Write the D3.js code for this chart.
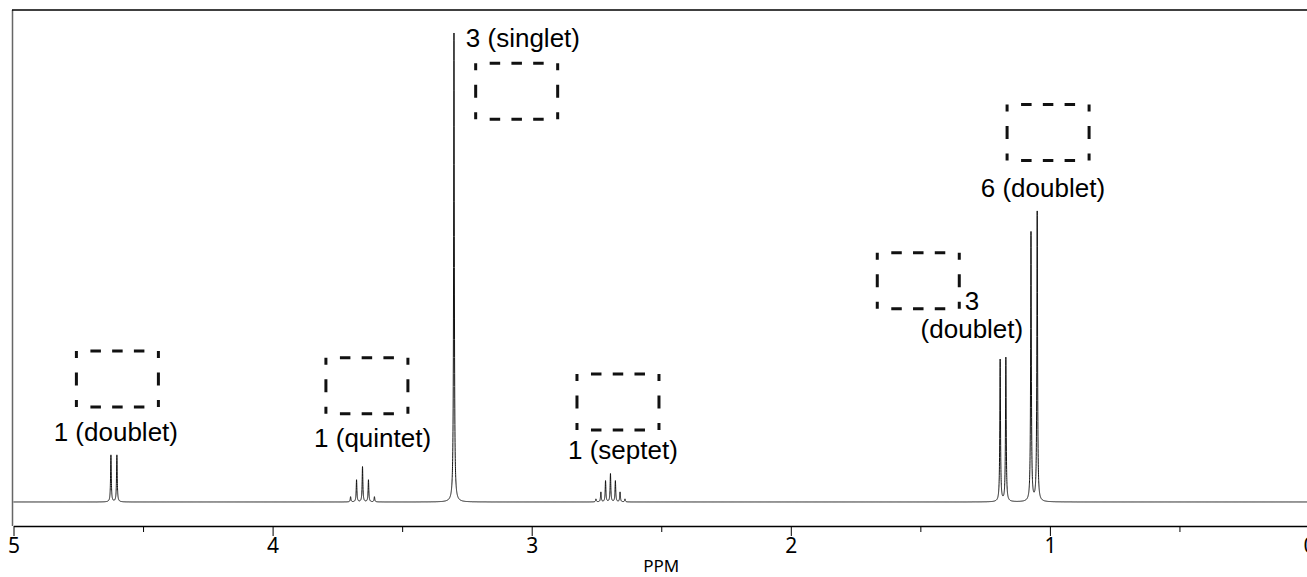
<!DOCTYPE html>
<html>
<head>
<meta charset="utf-8">
<script src="https://cdn.jsdelivr.net/npm/d3@7"></script>
<style>
body { margin: 0; background: #fff; }
</style>
</head>
<body>
<svg id="nmr" width="1307" height="577"></svg>
<script>
// peaks: position in ppm, height relative to the singlet (=100)
var peak_ppm = [4.624, 4.601,
    3.699, 3.676, 3.653, 3.630, 3.607,
    3.300,
    2.752, 2.733, 2.715, 2.696, 2.677, 2.659, 2.640,
    1.192, 1.170,
    1.073, 1.049];
var peak_height = [10.0, 10.0,
    1.1, 4.7, 7.5, 4.7, 1.1,
    100,
    0.64, 2.1, 4.5, 6.0, 4.5, 2.1, 0.64,
    30.3, 30.7,
    57.4, 61.8];

var major_ticks = [5, 4, 3, 2, 1, 0];
var minor_ticks = [4.5, 3.5, 2.5, 1.5, 0.5];

// integration labels (text lines, centre ppm, baseline height)
var label_lines = [["1 (doublet)"], ["1 (quintet)"], ["3 (singlet)"], ["1 (septet)"], ["3", "(doublet)"], ["6 (doublet)"]];
var label_ppm = [4.605, 3.614, 3.034, 2.648, 1.301, 1.027];
var label_level = [13.0, 11.7, 97.0, 9.2, 40.9, 65.0];

// empty answer boxes (centre ppm, centre height)
var box_ppm = [4.599, 3.636, 3.058, 2.667, 1.508, 1.007];
var box_level = [26.2, 24.8, 87.6, 21.3, 47.2, 78.8];

var half_width = 0.0016;

var svg = d3.select("#nmr");
var x = d3.scaleLinear().domain([5, 0]).range([13.5, 1309]);
var y = d3.scaleLinear().domain([0, 100]).range([502, 33]);

function intensity(p){
    var s = 0;
    for (var i = 0; i < peak_ppm.length; i++){
        var d = p - peak_ppm[i];
        s += peak_height[i] * half_width * half_width / (d * d + half_width * half_width);
    }
    return s;
}

function draw_frame(){
    svg.append("line")
        .attr("x1", 12.5).attr("x2", 12.5)
        .attr("y1", 10).attr("y2", 526)
        .attr("stroke", "#666").attr("stroke-width", 1.5);
    svg.append("line")
        .attr("x1", 12).attr("x2", 1307)
        .attr("y1", 10).attr("y2", 10)
        .attr("stroke", "#000").attr("stroke-width", 1.5);
}

function draw_spectrum(){
    var grid = d3.range(0, 5.0001, 0.0002).concat(peak_ppm).sort(d3.ascending);
    var line = d3.line()
        .x(function(d){ return x(d); })
        .y(function(d){ return y(intensity(d)); });
    svg.append("path")
        .attr("d", line(grid))
        .attr("fill", "none")
        .attr("stroke", "#111")
        .attr("stroke-width", 1);
}

function draw_axis(){
    var g = svg.append("g").attr("transform", "translate(0,526)");
    g.call(d3.axisBottom(x)
        .tickValues(major_ticks)
        .tickSize(10)
        .tickSizeOuter(0)
        .tickPadding(2)
        .tickFormat(d3.format("d")));
    g.select(".domain").attr("stroke-width", 1.5);
    g.selectAll("text")
        .attr("font-family", "Noto Sans")
        .attr("font-size", 21)
        .attr("fill", "#000");

    var m = svg.append("g").attr("transform", "translate(0,526)");
    m.call(d3.axisBottom(x).tickValues(minor_ticks).tickSize(6).tickFormat(""));
    m.select(".domain").remove();

    svg.append("text")
        .attr("x", x(2.5))
        .attr("y", 572)
        .attr("text-anchor", "middle")
        .attr("font-family", "Noto Sans")
        .attr("font-size", 17)
        .text("PPM");
}

function draw_boxes(){
    var w = 82, h = 56;
    for (var i = 0; i < box_ppm.length; i++){
        var g = svg.append("g")
            .attr("transform", "translate(" + (x(box_ppm[i]) - w / 2) + "," + (y(box_level[i]) - h / 2) + ")")
            .attr("stroke", "#111")
            .attr("stroke-width", 3);
        [0, h].forEach(function(yy){
            g.append("line")
                .attr("x1", 14).attr("x2", w - 14)
                .attr("y1", yy).attr("y2", yy)
                .attr("stroke-dasharray", "10.5,11.25");
        });
        [0, w].forEach(function(xx){
            g.append("line")
                .attr("x1", xx).attr("x2", xx)
                .attr("y1", 0).attr("y2", h)
                .attr("stroke-dasharray", "7,14.5,13,14.5,7");
        });
    }
}

function draw_labels(){
    for (var i = 0; i < label_lines.length; i++){
        var t = svg.append("text")
            .attr("text-anchor", "middle")
            .attr("font-family", "Liberation Sans, Arial, sans-serif")
            .attr("font-size", 26)
            .attr("fill", "#000");
        label_lines[i].forEach(function(s, k){
            t.append("tspan")
                .attr("x", x(label_ppm[i]))
                .attr("y", y(label_level[i]) + k * 28)
                .text(s);
        });
    }
}

draw_frame();
draw_spectrum();
draw_axis();
draw_boxes();
draw_labels();
</script>
</body>
</html>
